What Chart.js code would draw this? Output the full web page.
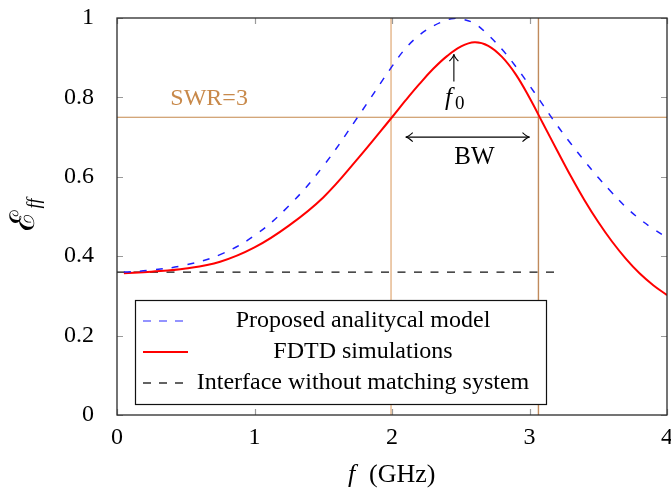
<!DOCTYPE html>
<html>
<head>
<meta charset="utf-8">
<script src="https://cdn.jsdelivr.net/npm/chart.js@4.4.0/dist/chart.umd.min.js"></script>
<style>
  html, body { margin: 0; padding: 0; background: #fff; }
  #wrap { width: 671px; height: 491px; }
</style>
</head>
<body>
<div id="wrap"><canvas id="effChart"></canvas></div>
<script>
// Proposed analytical model, f (GHz) / efficiency
const modelFreq = [0.05, 0.25, 0.5, 0.75, 1.0, 1.25, 1.5, 1.75, 2.0, 2.1, 2.2, 2.3, 2.4, 2.45, 2.5, 2.6, 2.7, 2.8, 2.9, 3.0, 3.1, 3.2, 3.3, 3.4, 3.5, 3.6, 3.7, 3.8, 3.9, 4.0];
const modelEff = [0.36, 0.365, 0.378, 0.404, 0.452, 0.527, 0.627, 0.75, 0.878, 0.924, 0.957, 0.98, 0.995, 0.999, 0.998, 0.986, 0.957, 0.921, 0.878, 0.83, 0.78, 0.73, 0.684, 0.64, 0.598, 0.56, 0.524, 0.494, 0.469, 0.447];
// FDTD simulations
const fdtdFreq = [0.05, 0.25, 0.5, 0.75, 1.0, 1.25, 1.5, 1.75, 2.0, 2.1, 2.2, 2.3, 2.4, 2.5, 2.6, 2.7, 2.8, 2.9, 3.0, 3.1, 3.2, 3.3, 3.4, 3.5, 3.6, 3.7, 3.8, 3.9, 4.0];
const fdtdEff = [0.357, 0.361, 0.369, 0.386, 0.422, 0.477, 0.548, 0.645, 0.75, 0.793, 0.834, 0.872, 0.904, 0.928, 0.939, 0.93, 0.902, 0.858, 0.799, 0.733, 0.667, 0.602, 0.541, 0.486, 0.437, 0.394, 0.357, 0.327, 0.302];
// Interface without matching system
const bareFreq = [0, 3.2];
const bareEff = [0.36, 0.36];

const xTicks = [0, 1, 2, 3, 4];
const yTicks = [0, 0.2, 0.4, 0.6, 0.8, 1];

// SWR = 3 limit, band edges and centre frequency
const swrLevel = 0.75;
const bandEdges = [1.993, 3.065];
const f0 = 2.45;

const serif = '"Liberation Serif", "DejaVu Serif", serif';

function pts(xs, ys) {
    return xs.map((x, i) => ({ x: x, y: ys[i] }));
}

function arrowHead(ctx, x, y, dx, dy) {
    // open "to" style tip
    const len = 7, wid = 4.5;
    const px = -dy, py = dx;
    ctx.beginPath();
    ctx.moveTo(x - dx * len + px * wid, y - dy * len + py * wid);
    ctx.quadraticCurveTo(x - dx * 2, y - dy * 2, x, y);
    ctx.quadraticCurveTo(x - dx * 2, y - dy * 2, x - dx * len - px * wid, y - dy * len - py * wid);
    ctx.stroke();
}

const decorations = {
    id: 'decorations',
    beforeDatasetsDraw(chart) {
        const { ctx, chartArea: a, scales: { x, y } } = chart;
        ctx.save();
        // SWR level
        ctx.strokeStyle = '#c4884c';
        ctx.lineWidth = 1.2;
        ctx.beginPath();
        ctx.moveTo(a.left, y.getPixelForValue(swrLevel));
        ctx.lineTo(a.right, y.getPixelForValue(swrLevel));
        ctx.stroke();
        // band edges
        const edgeColors = ['#e4b488', '#c08a5c'];
        bandEdges.forEach((f, i) => {
            ctx.strokeStyle = edgeColors[i];
            ctx.lineWidth = 1.4;
            ctx.beginPath();
            ctx.moveTo(x.getPixelForValue(f), a.top);
            ctx.lineTo(x.getPixelForValue(f), a.bottom);
            ctx.stroke();
        });
        ctx.restore();
    },
    afterDatasetsDraw(chart) {
        const { ctx, chartArea: a, scales: { x, y } } = chart;
        ctx.save();

        // inward ticks, all four sides
        ctx.strokeStyle = '#9a9a9a';
        ctx.lineWidth = 1.2;
        const tl = 6;
        ctx.beginPath();
        xTicks.forEach(v => {
            const px = Math.round(x.getPixelForValue(v)) + 0.5;
            ctx.moveTo(px, a.bottom); ctx.lineTo(px, a.bottom - tl);
            ctx.moveTo(px, a.top); ctx.lineTo(px, a.top + tl);
        });
        yTicks.forEach(v => {
            const py = Math.round(y.getPixelForValue(v)) + 0.5;
            ctx.moveTo(a.left, py); ctx.lineTo(a.left + tl, py);
            ctx.moveTo(a.right, py); ctx.lineTo(a.right - tl, py);
        });
        ctx.stroke();

        // axis box
        ctx.strokeStyle = '#2a2a2a';
        ctx.lineWidth = 1.3;
        ctx.strokeRect(a.left, a.top, a.right - a.left, a.bottom - a.top);

        // SWR=3 label
        ctx.fillStyle = '#c8894a';
        ctx.font = '24px ' + serif;
        ctx.textAlign = 'center';
        ctx.textBaseline = 'middle';
        ctx.fillText('SWR=3', x.getPixelForValue(0.67), y.getPixelForValue(0.797));

        // f0 arrow
        ctx.strokeStyle = '#000';
        ctx.fillStyle = '#000';
        ctx.lineWidth = 1.1;
        const ax = x.getPixelForValue(f0);
        const ay0 = y.getPixelForValue(0.84), ay1 = y.getPixelForValue(0.909);
        ctx.beginPath(); ctx.moveTo(ax, ay0); ctx.lineTo(ax, ay1); ctx.stroke();
        arrowHead(ctx, ax, ay1, 0, -1);
        ctx.font = 'italic 25px ' + serif;
        ctx.textAlign = 'left';
        ctx.textBaseline = 'alphabetic';
        const fx = x.getPixelForValue(2.385), fy = y.getPixelForValue(0.8) + 8;
        ctx.fillText('f', fx, fy);
        ctx.font = '19px ' + serif;
        ctx.fillText('0', fx + 10, fy + 4);

        // BW double arrow
        const bx0 = x.getPixelForValue(2.1), bx1 = x.getPixelForValue(3.0);
        const by = y.getPixelForValue(0.70);
        ctx.beginPath(); ctx.moveTo(bx0, by); ctx.lineTo(bx1, by); ctx.stroke();
        arrowHead(ctx, bx0, by, -1, 0);
        arrowHead(ctx, bx1, by, 1, 0);
        ctx.font = '25px ' + serif;
        ctx.textAlign = 'center';
        ctx.textBaseline = 'middle';
        ctx.fillText('BW', x.getPixelForValue(2.6), y.getPixelForValue(0.65));

        // legend
        const lx = 135, ly = 300, lw = 411, lh = 104;
        ctx.fillStyle = '#fff';
        ctx.fillRect(lx, ly, lw, lh);
        ctx.strokeStyle = '#111';
        ctx.lineWidth = 1.2;
        ctx.strokeRect(lx + 0.5, ly + 0.5, lw, lh);
        const rows = [
            { text: 'Proposed analitycal model', color: '#7070ff', dash: [8, 8], width: 1.5 },
            { text: 'FDTD simulations', color: '#ff0000', dash: [], width: 2 },
            { text: 'Interface without matching system', color: '#222', dash: [8, 8], width: 1.4 }
        ];
        rows.forEach((r, i) => {
            const ry = ly + 21 + i * 31;
            ctx.strokeStyle = r.color;
            ctx.lineWidth = r.width;
            ctx.setLineDash(r.dash);
            ctx.beginPath(); ctx.moveTo(lx + 8, ry); ctx.lineTo(lx + 53, ry); ctx.stroke();
            ctx.setLineDash([]);
            ctx.fillStyle = '#000';
            ctx.font = '24px ' + serif;
            ctx.textAlign = 'center';
            ctx.textBaseline = 'middle';
            ctx.fillText(r.text, lx + 228, ry);
        });

        // x axis title: f (GHz)
        ctx.fillStyle = '#000';
        ctx.textBaseline = 'alphabetic';
        ctx.textAlign = 'left';
        const tx = x.getPixelForValue(2) - 44, ty = 482;
        ctx.font = 'italic 26px ' + serif;
        ctx.fillText('f', tx, ty);
        ctx.font = '26px ' + serif;
        ctx.fillText('(GHz)', tx + 21, ty);

        // y axis title: script E with ff subscript
        ctx.translate(34, 215);
        ctx.rotate(-Math.PI / 2);
        ctx.textAlign = 'left';
        ctx.font = '34px ' + serif;
        const ew = ctx.measureText('\u2130').width;
        ctx.font = 'italic 18px ' + serif;
        const sw = ctx.measureText('ff').width;
        const sx = -(ew + sw) / 2;
        ctx.font = '34px ' + serif;
        ctx.fillText('\u2130', sx, 0);
        ctx.font = 'italic 18px ' + serif;
        ctx.fillText('ff', sx + ew + 1, 6);

        ctx.restore();
    }
};

const ctx = document.getElementById('effChart').getContext('2d');
const effChart = new Chart(ctx, {
    type: 'line',
    data: {
        datasets: [
            {
                label: 'Proposed analitycal model',
                data: pts(modelFreq, modelEff),
                borderColor: 'rgb(30, 30, 255)',
                borderWidth: 1.5,
                borderDash: [7, 9],
                pointRadius: 0,
                tension: 0.4,
                fill: false
            },
            {
                label: 'FDTD simulations',
                data: pts(fdtdFreq, fdtdEff),
                borderColor: '#ff0000',
                borderWidth: 2,
                pointRadius: 0,
                tension: 0.4,
                fill: false
            },
            {
                label: 'Interface without matching system',
                data: pts(bareFreq, bareEff),
                borderColor: '#111',
                borderWidth: 1.4,
                borderDash: [8, 8.5],
                pointRadius: 0,
                fill: false
            }
        ]
    },
    options: {
        responsive: true,
        maintainAspectRatio: false,
        animation: false,
        layout: { padding: { top: 18, right: 4, left: 0, bottom: 0 } },
        plugins: {
            legend: { display: false },
            tooltip: { enabled: false }
        },
        scales: {
            x: {
                type: 'linear',
                min: 0,
                max: 4,
                afterFit: s => { s.height = 76; s.paddingLeft = 0; s.paddingRight = 0; },
                afterBuildTicks: s => { s.ticks = xTicks.map(v => ({ value: v })); },
                grid: { display: false },
                border: { display: false },
                ticks: {
                    padding: 0,
                    color: '#000',
                    font: { family: serif, size: 24 },
                    maxRotation: 0
                }
            },
            y: {
                min: 0,
                max: 1,
                afterFit: s => { s.width = 117; s.paddingTop = 0; s.paddingBottom = 0; },
                afterBuildTicks: s => { s.ticks = yTicks.map(v => ({ value: v })); },
                grid: { display: false },
                border: { display: false },
                ticks: {
                    padding: 15,
                    color: '#000',
                    font: { family: serif, size: 24 },
                    callback: v => String(Math.round(v * 10) / 10)
                }
            }
        }
    },
    plugins: [decorations]
});
</script>
</body>
</html>
